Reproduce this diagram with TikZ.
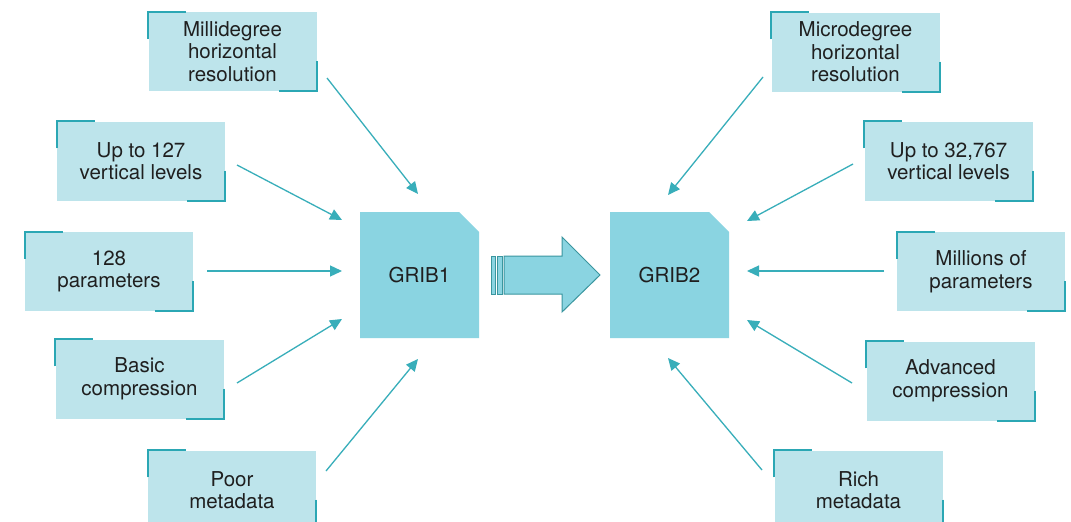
\documentclass[tikz,border=0pt]{standalone}
\usepackage{fontspec}
\setmainfont{TeX Gyre Heros}
\usetikzlibrary{arrows.meta}
\definecolor{boxfill}{HTML}{BDE4EB}
\definecolor{tealline}{HTML}{2BA7B4}
\definecolor{docfill}{HTML}{8AD4E1}
\definecolor{arrowc}{HTML}{38AEBA}
\definecolor{bigstroke}{HTML}{3A969F}
\newcommand\bracketize[1]{%
  \draw[bracket] ([yshift=-27pt]#1.north west) -- (#1.north west) -- ([xshift=38pt]#1.north west);
  \draw[bracket] ([yshift=30pt]#1.south east) -- (#1.south east) -- ([xshift=-38pt]#1.south east);}
\begin{document}
\begin{tikzpicture}[x=1pt,y=-1pt,
  info/.style={fill=boxfill, minimum width=168pt, minimum height=79pt, inner sep=0pt,
    align=center, font=\fontsize{20.5}{22.5}\selectfont, text=black!88},
  bracket/.style={draw=tealline, line width=2pt},
  doc/.style={minimum width=119pt, minimum height=126pt, inner sep=0pt,
    font=\fontsize{20.5}{22.5}\selectfont, text=black!88,
    path picture={\fill[docfill] (path picture bounding box.south west) -- (path picture bounding box.north west)
      -- ([xshift=-20pt]path picture bounding box.north east) -- ([yshift=-20pt]path picture bounding box.north east)
      -- (path picture bounding box.south east) -- cycle;}},
  conn/.style={draw=arrowc, line width=1.3pt, -{Triangle[length=12pt,width=11pt]}}]
\useasboundingbox (0,0) rectangle (1071,522);
\fill[white] (0,0) rectangle (1071,522);

% left boxes
\node[info] (l1) at (232.5,51.5) {Millidegree\\horizontal\\resolution};
\node[info] (l2) at (141,161) {Up to 127\\vertical levels};
\node[info] (l3) at (109,271.5) {128\\parameters};
\node[info] (l4) at (139.5,379) {Basic\\compression};
\node[info] (l5) at (232,490) {Poor\\metadata};
% right boxes
\node[info] (r1) at (855.5,52) {Microdegree\\horizontal\\resolution};
\node[info] (r2) at (948.5,161) {Up to 32,767\\vertical levels};
\node[info] (r3) at (981,271.5) {Millions of\\parameters};
\node[info] (r4) at (950.5,381) {Advanced\\compression};
\node[info] (r5) at (858.5,490) {Rich\\metadata};
\foreach \n in {l1,l2,l3,l4,l5,r1,r2,r3,r4,r5}{\bracketize{\n}}

% documents
\node[doc] (g1) at (419.5,275) {GRIB1};
\node[doc] (g2) at (669.5,275) {GRIB2};

% big arrow
\filldraw[fill=docfill, draw=bigstroke, line width=1pt] (491,256) rectangle (495,294);
\filldraw[fill=docfill, draw=bigstroke, line width=1pt] (497,256) rectangle (502,294);
\filldraw[fill=docfill, draw=bigstroke, line width=1pt]
  (504,256) -- (562,256) -- (562,237) -- (600,275) -- (562,312) -- (562,294) -- (504,294) -- cycle;

% connector ends
\coordinate (a1s) at (327,78);  \coordinate (a1e) at (418,194);
\coordinate (a2s) at (237,165); \coordinate (a2e) at (342,220);
\coordinate (a3s) at (207,271); \coordinate (a3e) at (342,271);
\coordinate (a4s) at (237,383); \coordinate (a4e) at (342,319);
\coordinate (a5s) at (326,471); \coordinate (a5e) at (418,359);
\coordinate (b1s) at (763,77);  \coordinate (b1e) at (668,195);
\coordinate (b2s) at (853,164); \coordinate (b2e) at (747,221);
\coordinate (b3s) at (884,271); \coordinate (b3e) at (747,271);
\coordinate (b4s) at (852,383); \coordinate (b4e) at (747,320);
\coordinate (b5s) at (762,470); \coordinate (b5e) at (668,358);
\foreach \s/\e in {a1s/a1e,a2s/a2e,a3s/a3e,a4s/a4e,a5s/a5e,b1s/b1e,b2s/b2e,b3s/b3e,b4s/b4e,b5s/b5e}
  {\draw[conn] (\s) -- (\e);}
\end{tikzpicture}
\end{document}
